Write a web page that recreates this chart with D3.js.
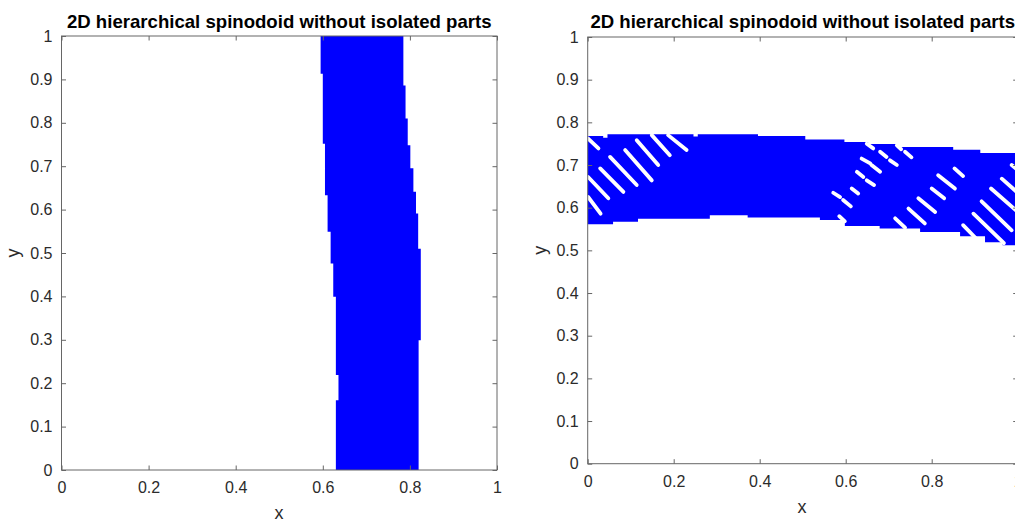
<!DOCTYPE html>
<html>
<head>
<meta charset="utf-8">
<script src="https://cdn.jsdelivr.net/npm/d3@7"></script>
<style>
  body { margin: 0; background: #fff; }
  svg { display: block; font-family: "Liberation Sans", Arial, sans-serif; }
</style>
</head>
<body>
<svg id="chart" width="1015" height="522"></svg>
<script>
//chart data
const title = "2D hierarchical spinodoid without isolated parts";
const xTicks = [0, 0.2, 0.4, 0.6, 0.8, 1];
const yTicks = [0, 0.1, 0.2, 0.3, 0.4, 0.5, 0.6, 0.7, 0.8, 0.9, 1];

//left plot: vertical band, steps as [yHigh, yLow, x]
const bandLeftEdge = [
  [1, 0.913, 0.595], [0.913, 0.752, 0.600], [0.752, 0.633, 0.605],
  [0.633, 0.549, 0.611], [0.549, 0.476, 0.618], [0.476, 0.399, 0.624],
  [0.399, 0.219, 0.630], [0.219, 0.161, 0.636], [0.161, 0, 0.630]
];
const bandRightEdge = [
  [1, 0.886, 0.785], [0.886, 0.810, 0.790], [0.810, 0.748, 0.795],
  [0.748, 0.695, 0.801], [0.695, 0.641, 0.808], [0.641, 0.591, 0.814],
  [0.591, 0.510, 0.819], [0.510, 0.299, 0.825], [0.299, 0, 0.820]
];

//right plot: horizontal band, steps as [xStart, y]
const bandTop = [
  [0, 0.768], [0.036, 0.764], [0.046, 0.772], [0.246, 0.767], [0.256, 0.772],
  [0.396, 0.768], [0.506, 0.760], [0.597, 0.754], [0.652, 0.749],
  [0.718, 0.742], [0.850, 0.736], [0.913, 0.728]
];
const bandBottom = [
  [0, 0.561], [0.059, 0.567], [0.117, 0.574], [0.284, 0.582], [0.372, 0.577],
  [0.540, 0.571], [0.598, 0.557], [0.679, 0.551], [0.773, 0.543],
  [0.866, 0.533], [0.924, 0.519], [0.965, 0.512]
];
//white slashes in the right band [x1, y1, x2, y2]
const slashes = [
  [0.001, 0.762, 0.025, 0.739], [0.001, 0.672, 0.048, 0.622], [0.001, 0.625, 0.030, 0.586],
  [0.029, 0.692, 0.083, 0.637], [0.052, 0.719, 0.114, 0.653], [0.087, 0.735, 0.149, 0.664],
  [0.114, 0.758, 0.164, 0.700], [0.149, 0.770, 0.191, 0.723], [0.187, 0.770, 0.230, 0.735],
  [0.637, 0.715, 0.657, 0.704], [0.660, 0.700, 0.680, 0.684], [0.680, 0.731, 0.695, 0.719],
  [0.703, 0.711, 0.719, 0.700], [0.719, 0.746, 0.729, 0.737], [0.738, 0.731, 0.753, 0.718],
  [0.626, 0.684, 0.641, 0.672], [0.649, 0.664, 0.666, 0.653], [0.614, 0.645, 0.629, 0.633],
  [0.571, 0.635, 0.587, 0.625], [0.594, 0.618, 0.612, 0.603], [0.585, 0.580, 0.598, 0.568],
  [0.649, 0.750, 0.664, 0.739],
  [0.853, 0.692, 0.873, 0.674], [0.815, 0.676, 0.854, 0.645], [0.800, 0.645, 0.829, 0.622],
  [0.769, 0.622, 0.808, 0.590], [0.746, 0.598, 0.784, 0.563], [0.715, 0.575, 0.738, 0.553],
  [0.873, 0.559, 0.905, 0.526], [0.897, 0.586, 0.968, 0.517], [0.916, 0.615, 0.986, 0.547],
  [0.938, 0.645, 1.000, 0.590], [0.963, 0.668, 1.000, 0.635], [0.986, 0.700, 1.000, 0.688]
];

const svg = d3.select("#chart");
const axisColor = "#666";
const textColor = "#2b2b2b";

//draws a matlab style box with inward ticks
const drawFrame = function(g, x, y, xPos, yPos){
  g.append("rect")
    .attr("x", x.range()[0]).attr("y", y.range()[1])
    .attr("width", x.range()[1] - x.range()[0])
    .attr("height", y.range()[0] - y.range()[1])
    .attr("fill", "none").attr("stroke", axisColor);

  const bottom = g.append("g").attr("transform", `translate(0,${y.range()[0]})`)
    .call(d3.axisBottom(x).tickValues(xTicks).tickSizeInner(-4.5).tickSizeOuter(0).tickPadding(12).tickFormat(d3.format("")));
  const top = g.append("g").attr("transform", `translate(0,${y.range()[1]})`)
    .call(d3.axisTop(x).tickValues(xTicks).tickSizeInner(-4.5).tickSizeOuter(0).tickFormat(""));
  const left = g.append("g").attr("transform", `translate(${x.range()[0]},0)`)
    .call(d3.axisLeft(y).tickValues(yTicks).tickSizeInner(-4.5).tickSizeOuter(0).tickPadding(9).tickFormat(d3.format("")));
  const right = g.append("g").attr("transform", `translate(${x.range()[1]},0)`)
    .call(d3.axisRight(y).tickValues(yTicks).tickSizeInner(-4.5).tickSizeOuter(0).tickFormat(""));

  [bottom, top, left, right].forEach(a => {
    a.select(".domain").remove();
    a.selectAll(".tick line").attr("stroke", axisColor);
    a.selectAll(".tick text").attr("fill", textColor)
      .style("font-size", "16px").style("font-family", "'Liberation Sans', Arial, sans-serif");
  });

  const cx = (x.range()[0] + x.range()[1]) / 2;
  const cy = (y.range()[0] + y.range()[1]) / 2;
  g.append("text").attr("x", cx).attr("y", 28)
    .attr("text-anchor", "middle").attr("font-weight", "bold")
    .attr("font-size", 18.6).attr("fill", "#000").text(title);
  g.append("text").attr("x", xPos[0]).attr("y", xPos[1])
    .attr("text-anchor", "middle").attr("font-size", 18).attr("fill", textColor).text("x");
  g.append("text").attr("transform", `translate(${yPos},${cy}) rotate(-90)`)
    .attr("text-anchor", "middle").attr("font-size", 18).attr("fill", textColor).text("y");
};

//left plot
const x1 = d3.scaleLinear().domain([0, 1]).range([61.5, 497]);
const y1 = d3.scaleLinear().domain([0, 1]).range([470, 36]);
const g1 = svg.append("g");

let poly = [];
bandLeftEdge.forEach(d => { poly.push([d[2], d[0]], [d[2], d[1]]); });
bandRightEdge.slice().reverse().forEach(d => { poly.push([d[2], d[1]], [d[2], d[0]]); });
g1.append("path")
  .datum(poly)
  .attr("fill", "#0000ff")
  .attr("d", d3.line().x(d => x1(d[0])).y(d => y1(d[1])).curve(d3.curveLinearClosed));

drawFrame(g1, x1, y1, [279, 519], 19);

//right plot
const x2 = d3.scaleLinear().domain([0, 1]).range([587.7, 1017.7]);
const y2 = d3.scaleLinear().domain([0, 1]).range([463.7, 37]);
const g2 = svg.append("g");

//merge top and bottom steps into one area
const stepAt = (arr, x) => { let v = arr[0][1]; arr.forEach(d => { if(d[0] <= x) v = d[1]; }); return v; };
let xs = Array.from(new Set(bandTop.map(d => d[0]).concat(bandBottom.map(d => d[0]), [1]))).sort((a, b) => a - b);
let areaData = xs.map(x => [x, stepAt(bandBottom, x), stepAt(bandTop, x)]);
g2.append("path")
  .datum(areaData)
  .attr("fill", "#0000ff")
  .attr("d", d3.area().x(d => x2(d[0])).y0(d => y2(d[1])).y1(d => y2(d[2])).curve(d3.curveStepAfter));

g2.selectAll("line.slash")
  .data(slashes)
  .join("line")
  .attr("class", "slash")
  .attr("x1", d => x2(d[0])).attr("y1", d => y2(d[1]))
  .attr("x2", d => x2(d[2])).attr("y2", d => y2(d[3]))
  .attr("stroke", "#fff").attr("stroke-width", 3.8).attr("stroke-linecap", "round");

drawFrame(g2, x2, y2, [802, 513], 546);
</script>
</body>
</html>
